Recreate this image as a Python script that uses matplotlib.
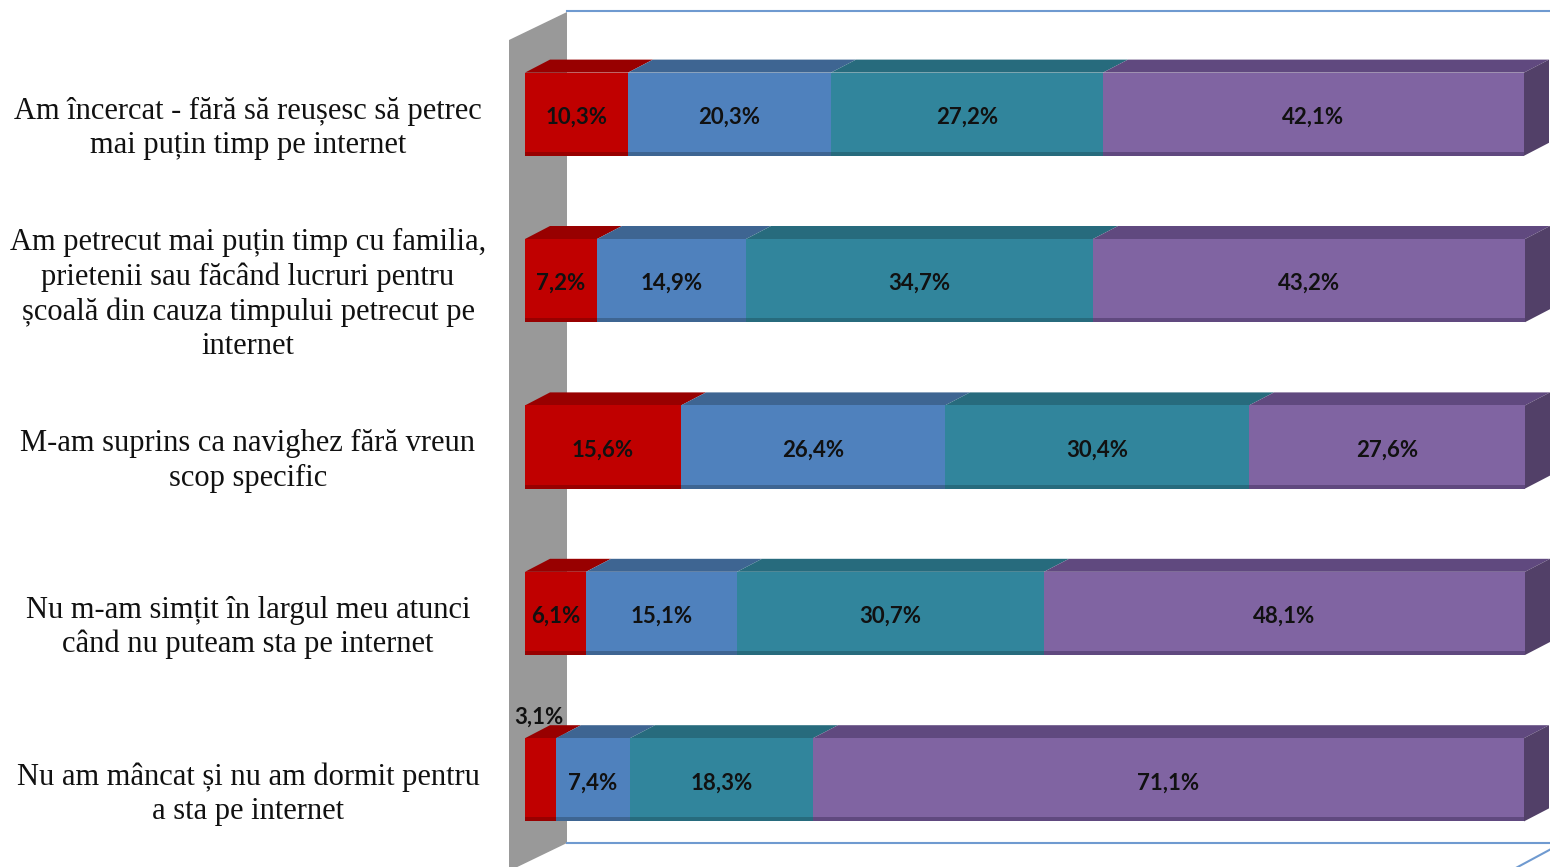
import matplotlib.pyplot as plt
from matplotlib.patches import Polygon
from matplotlib import transforms

plt.rcParams["figure.figsize"] = [15.5, 8.67]
plt.rcParams["figure.dpi"] = 100

categories = [
    "Am încercat - fără să reușesc să petrec\nmai puțin timp pe internet",
    "Am petrecut mai puțin timp cu familia,\nprietenii sau făcând lucruri pentru\nșcoală din cauza timpului petrecut pe\ninternet",
    "M-am suprins ca navighez fără vreun\nscop specific",
    "Nu m-am simțit în largul meu atunci\ncând nu puteam sta pe internet",
    "Nu am mâncat și nu am dormit pentru\na sta pe internet",
]
red = [10.3, 7.2, 15.6, 6.1, 3.1]
blue = [20.3, 14.9, 26.4, 15.1, 7.4]
teal = [27.2, 34.7, 30.4, 30.7, 18.3]
purple = [42.1, 43.2, 27.6, 48.1, 71.1]

series = [red, blue, teal, purple]
front_colors = ['#C00000', '#4F81BD', '#31859C', '#8064A2']
top_colors = ['#980000', '#3E6592', '#276B7D', '#60497F']
side_color = '#524068'

W, H = 1550, 867
fig = plt.figure()
ax = fig.add_axes([525 / W, 1 - 863 / H, 1000 / W, 832 / H])
n = len(categories)
ax.set_xlim(0, 100)
ax.set_ylim(n - 0.5, -0.5)
ax.axis('off')

px_x = 100 / 1000
px_y = n / 832


def pix(xp, yp):
    return ((xp - 525) * px_x, (yp - 31) * px_y - 0.5)


# back walls
ax.add_patch(Polygon([pix(509, 40), pix(567, 12), pix(567, 843), pix(509, 871)],
                     closed=True, facecolor='#999999', edgecolor='none', clip_on=False, zorder=0))
wall_line = '#6F9AD0'
for a, b in [((567, 11), (1560, 11)), ((567, 843), (1560, 843)), ((1514, 869), (1553, 848))]:
    p, q = pix(*a), pix(*b)
    ax.plot([p[0], q[0]], [p[1], q[1]], color=wall_line, lw=1.5, clip_on=False, zorder=0)

h = 0.5
ddx = 25 * px_x
ddy = 13 * px_y

for i in range(n):
    left = 0
    y0 = i - h / 2
    y1 = i + h / 2
    for k, vals in enumerate(series):
        v = vals[i]
        ax.barh(i, v, left=left, height=h, color=front_colors[k], edgecolor='none', zorder=2)
        # darker bottom edge
        ax.barh(y1 - 2 * px_y, v, left=left, height=4 * px_y, color=top_colors[k], edgecolor='none', zorder=2)
        ax.add_patch(Polygon([(left, y0), (left + v, y0), (left + v + ddx, y0 - ddy), (left + ddx, y0 - ddy)],
                             closed=True, facecolor=top_colors[k], edgecolor='none', clip_on=False, zorder=1))
        label = f"{v:.1f}".replace('.', ',') + '%'
        if v >= 5:
            ax.text(left + v / 2, i + 3 * px_y, label, ha='center', va='center',
                    fontsize=16, fontweight='bold', family='Lato', color='#111111', zorder=3)
        else:
            ax.text(left + v / 2 - 0.2, y0 - ddy + 3 * px_y, label, ha='center', va='bottom',
                    fontsize=16, fontweight='bold', family='Lato', color='#111111', zorder=3)
        left += v
    ax.add_patch(Polygon([(left, y0), (left, y1), (left + ddx, y1 - ddy), (left + ddx, y0 - ddy)],
                         closed=True, facecolor=side_color, edgecolor='none', clip_on=False, zorder=1))

trans = transforms.blended_transform_factory(fig.transFigure, ax.transData)
for i, cat in enumerate(categories):
    ax.text(248 / W, i + 14 * px_y, cat, transform=trans, ha='center', va='center',
            multialignment='center', fontsize=22, family='Liberation Serif',
            linespacing=1.23, color='#111111')

fig.savefig("out.png", dpi=100)
